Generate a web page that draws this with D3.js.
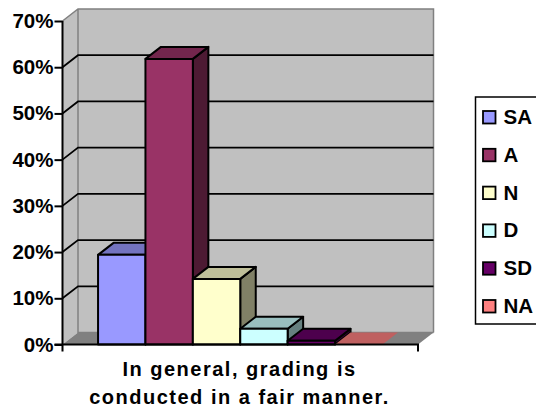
<!DOCTYPE html>
<html><head><meta charset="utf-8">
<script src="https://cdn.jsdelivr.net/npm/d3@7/dist/d3.min.js"></script>
<style>html,body{margin:0;padding:0;background:#fff}svg{display:block}text{font-family:"Liberation Sans",Arial,sans-serif;font-weight:bold;fill:#000}</style>
</head><body><svg id="c" width="536" height="411"></svg>
<script>
const categories = ["SA","A","N","D","SD","NA"];
const seriesValues = [19.4,61.8,14.2,3.4,0.8,0];
const fronts = ["#9999FF","#993366","#FFFFCC","#CCFFFF","#660066","#FF8080"];
const tops = ["#7373BF","#73264D","#BFBF99","#99BFBF","#4D004D","#BF6060"];
const sides = ["#4D4D80","#4D1A33","#808066","#668080","#330033","#804040"];
const tickValues = [0,10,20,30,40,50,60,70];
const titleLines = ["In general, grading is","conducted in a fair manner."];

const svg = d3.select("#c");
const dx = 15.5, dy = -12;
const y = d3.scaleLinear().domain([0,70]).range([344.5,21]);
const xOuter = d3.scaleLinear().domain([0,1]).range([62.5,418]);
const x = d3.scaleBand().domain(categories).range([62.5,418]).paddingInner(0).paddingOuter(0.75);
const poly = pts => pts.map(p=>p.join(",")).join(" ");
const L = xOuter(0), R = xOuter(1), B = y(0), T = y(70);

svg.append("polygon").attr("points",poly([[L,B],[L,T],[L+dx,T+dy],[L+dx,B+dy]])).attr("fill","#C0C0C0");
svg.append("rect").attr("x",L+dx).attr("y",T+dy).attr("width",R-L).attr("height",B-T).attr("fill","#C0C0C0");
svg.append("polygon").attr("points",poly([[L,B],[R,B],[R+dx,B+dy],[L+dx,B+dy]])).attr("fill","#808080");
svg.append("path").attr("fill","none").attr("stroke","#808080").attr("stroke-width",1.5)
  .attr("d",`M${L},${T}L${L+dx},${T+dy}H${R+dx}V${B+dy}M${L+dx},${T+dy}V${B+dy}H${R+dx}`);
tickValues.filter(v=>v>0&&v<70).forEach(v=>{
  svg.append("path").attr("fill","none").attr("stroke","#000").attr("stroke-width",1.8)
    .attr("d",`M${L},${y(v)}L${L+dx},${y(v)+dy}H${R+dx}`);
});
categories.forEach((c,i)=>{
  const x0=x(c), x1=x0+x.bandwidth(), t=y(seriesValues[i]);
  const g=svg.append("g").attr("stroke","#000").attr("stroke-width",2).attr("stroke-linejoin","round");
  const s=seriesValues[i]>0?"#000":"none";
  g.append("polygon").attr("points",poly([[x1,B],[x1,t],[x1+dx,t+dy],[x1+dx,B+dy]])).attr("fill",sides[i]).attr("stroke",s);
  g.append("polygon").attr("points",poly([[x0,t],[x1,t],[x1+dx,t+dy],[x0+dx,t+dy]])).attr("fill",tops[i]).attr("stroke",s);
  if(seriesValues[i]>0) g.append("rect").attr("x",x0).attr("y",t).attr("width",x.bandwidth()).attr("height",B-t).attr("fill",fronts[i]);
});
const yAxis = d3.axisLeft(y).tickValues(tickValues).tickFormat(d=>d+"%").tickSize(8).tickPadding(1);
const ga = svg.append("g").attr("transform",`translate(${L},0)`).call(yAxis);
ga.selectAll("path").attr("stroke","#000").attr("stroke-width",2).attr("d",`M0,${T}V${B+7}`);
ga.selectAll("line").attr("stroke","#000").attr("stroke-width",2);
ga.selectAll("text").attr("font-size",20.5).attr("fill","#000");
svg.append("path").attr("fill","none").attr("stroke","#000").attr("stroke-width",2)
  .attr("d",`M${L-8},${B}H${R}V${B+7}`);
titleLines.forEach((t,i)=>{
  svg.append("text").attr("x",239.5).attr("y",[376,404][i]).attr("text-anchor","middle")
   .attr("font-size",20).attr("letter-spacing",1.5).text(t);
});
const legendY = d3.scalePoint().domain(categories).range([117,306]);
svg.append("path").attr("fill","#fff").attr("stroke","#000").attr("stroke-width",1.5)
  .attr("d","M537,97H475.5V324H537");
categories.forEach((c,i)=>{
  const cy=legendY(c);
  svg.append("rect").attr("x",483).attr("y",cy-6).attr("width",12.5).attr("height",12.5).attr("fill",fronts[i]).attr("stroke","#000").attr("stroke-width",1.8);
  svg.append("text").attr("x",503.5).attr("y",cy+7).attr("font-size",20.5).text(c);
});
</script></body></html>
